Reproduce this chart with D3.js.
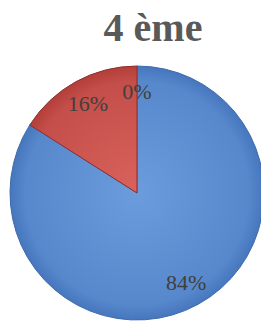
<!DOCTYPE html>
<html>
<head>
<meta charset="utf-8">
<script src="https://cdn.jsdelivr.net/npm/d3@7"></script>
<style>
  html, body { margin: 0; padding: 0; background: #fff; }
  #chart { width: 261px; height: 324px; }
</style>
</head>
<body>
<div id="chart"></div>
<script>
// chart data
var categories = ["A", "B", "C"],
    values     = [84, 16, 0],
    labels     = ["84%", "16%", "0%"],
    title      = "4 ème";

var width = 261, height = 324,
    center = [137, 193],
    radius = 127;

var colors = [
  {light: "#6B9CDC", dark: "#4677BE", stroke: "#3F6BA8"},
  {light: "#D9625C", dark: "#B33E3A", stroke: "#8E2F2C"},
  {light: "#A6C76A", dark: "#86A84B", stroke: "#6E8C3C"}
];

var svg = d3.select("#chart").append("svg")
    .attr("width", width)
    .attr("height", height);

// gradients for the bevel look
var defs = svg.append("defs");
colors.forEach(function(c, i){
  var g = defs.append("radialGradient")
      .attr("id", "grad" + i)
      .attr("gradientUnits", "userSpaceOnUse")
      .attr("cx", 0).attr("cy", 0).attr("r", radius);
  g.append("stop").attr("offset", "0%").attr("stop-color", c.light);
  g.append("stop").attr("offset", "88%").attr("stop-color", d3.interpolateRgb(c.light, c.dark)(0.55));
  g.append("stop").attr("offset", "100%").attr("stop-color", c.dark);
});

svg.append("text")
    .attr("x", 153)
    .attr("y", 41)
    .attr("text-anchor", "middle")
    .attr("font-family", "'Liberation Serif', 'Times New Roman', serif")
    .attr("font-weight", "bold")
    .attr("font-size", "40px")
    .attr("fill", "#595959")
    .text(title);

var pie = d3.pie().sort(null).value(function(d){ return d; });
var arc = d3.arc().innerRadius(0).outerRadius(radius);
var labelArc = d3.arc().innerRadius(102).outerRadius(102);

var g = svg.append("g")
    .attr("transform", "translate(" + center[0] + "," + center[1] + ")");

var arcs = pie(values);

// empty slices draw nothing (no stray stroke)
g.selectAll("path")
  .data(arcs.filter(function(d){ return d.value > 0; }))
  .enter()
  .append("path")
    .attr("d", arc)
    .attr("fill", function(d){ return "url(#grad" + d.index + ")"; })
    .attr("stroke", function(d){ return colors[d.index].stroke; })
    .attr("stroke-width", 1)
    .attr("stroke-linejoin", "round");

g.selectAll("text")
  .data(arcs)
  .enter()
  .append("text")
    .attr("transform", function(d){ return "translate(" + labelArc.centroid(d) + ")"; })
    .attr("text-anchor", "middle")
    .attr("dy", "0.35em")
    .attr("font-family", "'Liberation Serif', 'Times New Roman', serif")
    .attr("font-size", "22px")
    .attr("fill", "#404040")
    .text(function(d, i){ return labels[i]; });
</script>
</body>
</html>
